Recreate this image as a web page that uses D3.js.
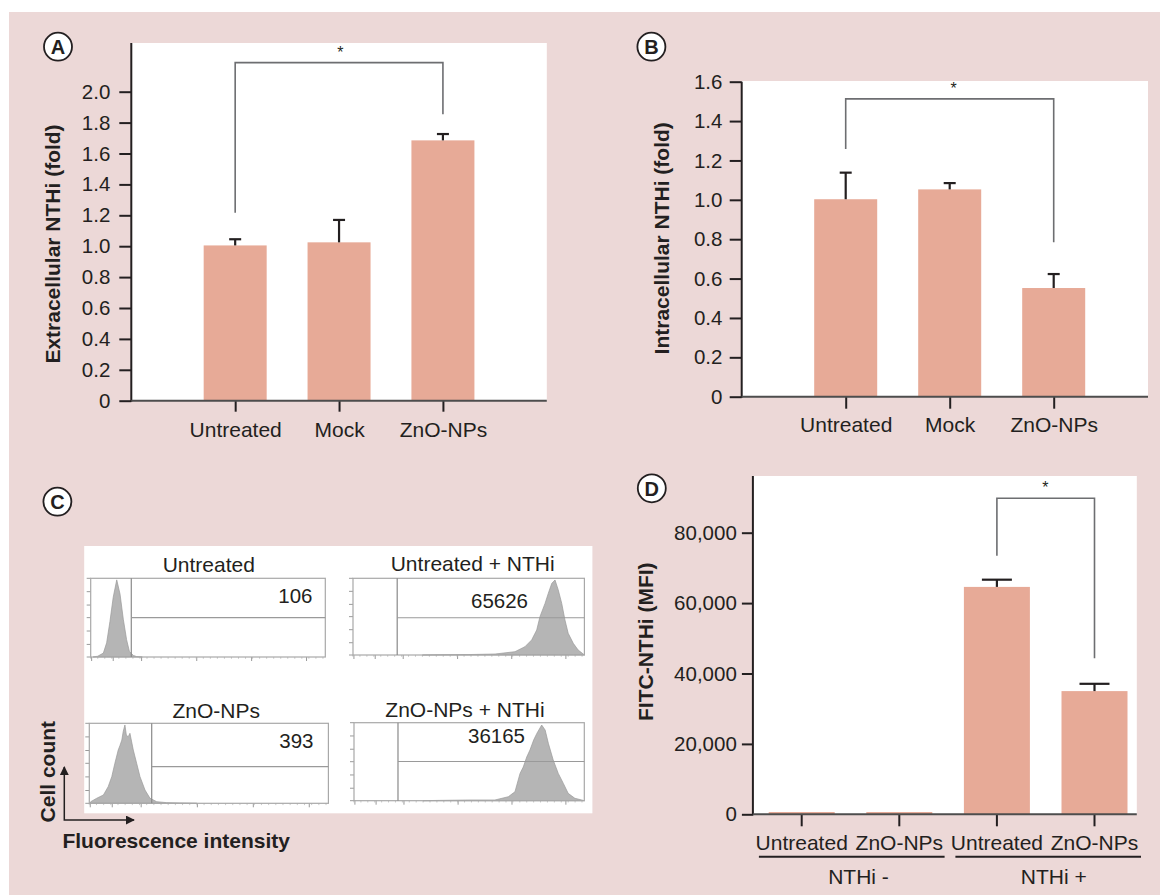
<!DOCTYPE html>
<html><head><meta charset="utf-8">
<script src="https://cdn.jsdelivr.net/npm/d3@7"></script>
<style>
html,body{margin:0;padding:0;background:#fff;}
svg{display:block;font-family:"Liberation Sans",Arial,Helvetica,sans-serif;}
</style></head><body>
<svg id="chart" width="1160" height="895"></svg>
<script>
// ---------- DATA ----------
const categoriesAB = ["Untreated", "Mock", "ZnO-NPs"];
const extracellularFold = [1.005, 1.025, 1.685];
const extracellularErr = [0.04, 0.145, 0.041];
const intracellularFold = [1.003, 1.053, 0.552];
const intracellularErr = [0.135, 0.032, 0.071];
const ticksA = [0, 0.2, 0.4, 0.6, 0.8, 1.0, 1.2, 1.4, 1.6, 1.8, 2.0];
const ticksB = [0, 0.2, 0.4, 0.6, 0.8, 1.0, 1.2, 1.4, 1.6];
// bracket: [level, left leg end, right leg end]
const bracketA = [2.188, 1.217, 1.854];
const bracketB = [1.513, 1.258, 0.784];

const categoriesD = ["Untreated", "ZnO-NPs", "Untreated", "ZnO-NPs"];
const groupsD = ["NTHi -", "NTHi +"];
const mfiValues = [650, 650, 64600, 35000];
const mfiErr = [0, 0, 2050, 2070];
const ticksD = [0, 20000, 40000, 60000, 80000];
const bracketD = [89770, 73460, 44320];

const histTitles = ["Untreated", "Untreated + NTHi", "ZnO-NPs", "ZnO-NPs + NTHi"];
const histMFI = ["106", "65626", "393", "36165"];
// [channel (0-100 of frame width), count (% of frame height)]
const histUntreated = [[1,0],[3,1],[5.4,5],[6.8,18],[8.2,45],[9.6,76],[11.1,98],[12.5,80],[13.9,48],[15.3,22],[16.5,7],[18.2,2],[19.6,0.5],[22,0]];
const histUntreatedNTHi = [[30,0],[37.6,0.3],[50.6,0.6],[61.4,1.3],[70,4.3],[74.3,10.8],[77.2,19.6],[79.4,32.6],[80.8,50],[83,67.3],[84.4,80.4],[85.9,93.4],[87.3,97.8],[88.7,84.8],[90.2,67.3],[91.6,45.6],[93,28.3],[95.2,15.2],[97.3,6.5],[99.5,1.3],[100,0]];
const histZnO = [[0.3,0],[0.6,2],[3.1,6.3],[5.9,10.4],[7.9,20.8],[9.4,33.3],[10.7,50],[12.1,66.6],[12.8,72],[13.6,79],[14.2,90],[14.9,97.9],[15.5,85],[16.3,83.3],[17,87.5],[18.4,66.6],[19.8,50],[21.2,33.3],[23.3,16.6],[25.4,6.3],[28.2,2],[32.4,0.8],[37.9,0.4],[45,0]];
const histZnONTHi = [[30,0],[37.3,0.4],[50.4,0.9],[61.2,0.9],[67,5.1],[69.9,11.5],[72.1,35],[73.5,43.2],[75,56],[76.4,64.9],[78,77.7],[79.4,86.3],[81.5,97],[83,90.6],[84.4,73.5],[86.5,52.2],[88.7,35],[90.9,22.2],[93,9.4],[95.9,3.1],[98.9,0.9],[100,0]];
const gateChannel = [17.3, 19.1, 26.1, 19.1];
const gateLevel = [50, 48.6, 45.8, 50.3];
const histTicksX = [0.4, 9.6, 21.7, 45.2, 68.6, 92];
const histTicksY = [0, 16, 33, 50, 66, 83, 100];

// ---------- STYLE ----------
const INK = "#231f20", BAR = "#e7aa97", PINK = "#ecd8d7", GREY = "#6d6e71";
const svg = d3.select("#chart");
svg.append("rect").attr("x", 9).attr("y", 12).attr("width", 1151).attr("height", 883).attr("fill", PINK);

function panelLabel(cx, cy, t) {
  svg.append("circle").attr("cx", cx).attr("cy", cy).attr("r", 14).attr("fill", "#fff").attr("stroke", INK).attr("stroke-width", 1.8);
  svg.append("text").attr("x", cx).attr("y", cy + 7.3).attr("text-anchor", "middle").attr("font-size", 20).attr("font-weight", "bold").attr("fill", INK).text(t);
}
function yTitle(x, cy, t) {
  svg.append("text").attr("transform", `translate(${x},${cy}) rotate(-90)`).attr("text-anchor", "middle")
    .attr("font-size", 21).attr("font-weight", "bold").attr("fill", INK).text(t);
}
function bars(centers, vals, errs, y, bw, capHalf) {
  const g = svg.append("g");
  g.selectAll("rect").data(vals).join("rect")
    .attr("x", (d, i) => centers[i] - bw / 2).attr("y", d => y(d))
    .attr("width", bw).attr("height", d => y(0) - y(d)).attr("fill", BAR);
  const eg = svg.append("g").attr("stroke", INK).attr("stroke-width", 2.2);
  vals.forEach((v, i) => {
    if (!errs[i]) return;
    eg.append("line").attr("x1", centers[i]).attr("x2", centers[i]).attr("y1", y(v)).attr("y2", y(v + errs[i]));
    eg.append("line").attr("x1", centers[i] - capHalf).attr("x2", centers[i] + capHalf).attr("y1", y(v + errs[i])).attr("y2", y(v + errs[i]));
  });
}
function bracket(xl, xr, y, br, starX, starSize) {
  svg.append("path").attr("d", `M${xl},${y(br[1])}V${y(br[0])}H${xr}V${y(br[2])}`)
    .attr("fill", "none").attr("stroke", GREY).attr("stroke-width", 1.6);
  svg.append("text").attr("x", starX).attr("y", y(br[0]) - 5).attr("text-anchor", "middle")
    .attr("font-size", starSize).attr("fill", INK).text("*");
}
function styleAxis(g, size) {
  g.select(".domain").remove();
  g.selectAll(".tick line").attr("stroke", INK).attr("stroke-width", 2);
  g.selectAll(".tick text").attr("fill", INK).attr("font-size", size).attr("font-family", "Liberation Sans, Arial, sans-serif");
}
const fmtFold = d => d === 0 ? "0" : d3.format(".1f")(d);

// ---------- PANEL A ----------
{
  const L = 131.3, R = 546.8, T = 43, B = 400.7;
  svg.append("rect").attr("x", L).attr("y", T).attr("width", R - L).attr("height", B - T).attr("fill", "#fff");
  const y = d3.scaleLinear().domain([0, 2.0]).range([B, 91.7]);
  const x = d3.scalePoint().domain(categoriesAB).range([L, R]).padding(1);
  const centers = categoriesAB.map(c => x(c));
  bars(centers, extracellularFold, extracellularErr, y, 63, 6);
  bracket(x(categoriesAB[0]), x(categoriesAB[2]), y, bracketA, 340.4, 16);
  const ga = svg.append("g").attr("transform", `translate(${L},0)`)
    .call(d3.axisLeft(y).tickValues(ticksA).tickSize(12).tickPadding(9).tickFormat(fmtFold));
  styleAxis(ga, 20.5);
  const gx = svg.append("g").attr("transform", `translate(0,${B})`)
    .call(d3.axisBottom(x).tickSize(11).tickPadding(10));
  styleAxis(gx, 21);
  svg.append("line").attr("x1", L).attr("x2", L).attr("y1", T).attr("y2", B + 1).attr("stroke", INK).attr("stroke-width", 2);
  svg.append("line").attr("x1", L).attr("x2", R).attr("y1", B).attr("y2", B).attr("stroke", "#4d4d4d").attr("stroke-width", 2);
  yTitle(60, 244, "Extracellular NTHi (fold)");
  panelLabel(58, 46.7, "A");
}

// ---------- PANEL B ----------
{
  const L = 741.7, R = 1148, T = 81, B = 396.7;
  svg.append("rect").attr("x", L).attr("y", T).attr("width", R - L).attr("height", B - T).attr("fill", "#fff");
  const y = d3.scaleLinear().domain([0, 1.6]).range([B, 81.7]);
  const x = d3.scalePoint().domain(categoriesAB).range([L, L + 416]).padding(1);
  const centers = categoriesAB.map(c => x(c));
  bars(centers, intracellularFold, intracellularErr, y, 63, 6);
  bracket(x(categoriesAB[0]), x(categoriesAB[2]), y, bracketB, 953.7, 16);
  const ga = svg.append("g").attr("transform", `translate(${L},0)`)
    .call(d3.axisLeft(y).tickValues(ticksB).tickSize(12).tickPadding(7.3).tickFormat(fmtFold));
  styleAxis(ga, 20.5);
  const gx = svg.append("g").attr("transform", `translate(0,${B})`)
    .call(d3.axisBottom(x).tickSize(12).tickPadding(8.7));
  styleAxis(gx, 21);
  svg.append("line").attr("x1", L).attr("x2", L).attr("y1", 81.7).attr("y2", B + 1).attr("stroke", INK).attr("stroke-width", 2);
  svg.append("line").attr("x1", L).attr("x2", R).attr("y1", B).attr("y2", B).attr("stroke", "#4d4d4d").attr("stroke-width", 2);
  yTitle(669, 238.3, "Intracellular NTHi (fold)");
  panelLabel(651.4, 46.7, "B");
}

// ---------- PANEL D ----------
{
  const L = 752.9, R = 1136.8, T = 476, B = 814.3;
  svg.append("rect").attr("x", L).attr("y", T).attr("width", R - L).attr("height", B - T).attr("fill", "#fff");
  const y = d3.scaleLinear().domain([0, 80000]).range([B, 532.7]);
  const idx = d3.range(categoriesD.length);
  const x = d3.scaleBand().domain(idx).range([L, L + 390.4]);
  const centers = idx.map(i => x(i) + x.bandwidth() / 2);
  bars(centers, mfiValues, mfiErr, y, 66, 15);
  bracket(centers[2], centers[3], y, bracketD, 1045.4, 16);
  const ga = svg.append("g").attr("transform", `translate(${L},0)`)
    .call(d3.axisLeft(y).tickValues(ticksD).tickSize(11).tickPadding(5.1).tickFormat(d3.format(",")));
  styleAxis(ga, 20.5);
  const gx = svg.append("g").attr("transform", `translate(0,${B})`)
    .call(d3.axisBottom(x).tickSize(12).tickPadding(8.8).tickFormat(i => categoriesD[i]));
  styleAxis(gx, 21);
  svg.append("line").attr("x1", L).attr("x2", L).attr("y1", T).attr("y2", B + 1).attr("stroke", INK).attr("stroke-width", 2);
  svg.append("line").attr("x1", L).attr("x2", R).attr("y1", B).attr("y2", B).attr("stroke", "#4d4d4d").attr("stroke-width", 2);
  // group underlines & labels
  const groupSpans = [[758.9, 944.6], [955.4, 1141]];
  groupsD.forEach((gname, gi) => {
    const [a, b] = groupSpans[gi];
    svg.append("line").attr("x1", a).attr("x2", b).attr("y1", 856.7).attr("y2", 856.7).attr("stroke", INK).attr("stroke-width", 2);
    const c = (centers[gi * 2] + centers[gi * 2 + 1]) / 2;
    svg.append("text").attr("x", c + 8).attr("y", 884).attr("text-anchor", "middle").attr("font-size", 21).attr("fill", INK).text(gname);
  });
  yTitle(652.7, 641.7, "FITC-NTHi (MFI)");
  panelLabel(651.8, 488.3, "D");
}

// ---------- PANEL C ----------
{
  svg.append("rect").attr("x", 84.2).attr("y", 546).attr("width", 592.4 - 84.2).attr("height", 813.3 - 546).attr("fill", "#fff");
  const frames = [
    {x0: 90.7, x1: 325.3, y0: 578.3, y1: 657},
    {x0: 353, x1: 584.4, y0: 578.3, y1: 655},
    {x0: 89.3, x1: 328.4, y0: 723.3, y1: 803.3},
    {x0: 354, x1: 584.3, y0: 722.7, y1: 800.7}
  ];
  const titlePos = [[208.8, 572], [472.7, 571], [216.2, 718.3], [465, 716.7]];
  const mfiPos = [[278.3, 603], [471, 608], [279.3, 748], [468, 743.3]];
  const hists = [histUntreated, histUntreatedNTHi, histZnO, histZnONTHi];
  frames.forEach((f, i) => {
    const hx = d3.scaleLinear().domain([0, 100]).range([f.x0, f.x1]);
    const hy = d3.scaleLinear().domain([0, 100]).range([f.y1, f.y0]);
    const g = svg.append("g");
    // ticks
    histTicksX.forEach(t => {
      g.append("line").attr("x1", hx(t)).attr("x2", hx(t)).attr("y1", f.y1).attr("y2", f.y1 + 4).attr("stroke", "#9a9a9a").attr("stroke-width", 1);
    });
    d3.range(0, 100, 3).forEach(t => {
      g.append("line").attr("x1", hx(t)).attr("x2", hx(t)).attr("y1", f.y1).attr("y2", f.y1 + 1.8).attr("stroke", "#bdbdbd").attr("stroke-width", 0.8);
    });
    histTicksY.forEach(t => {
      g.append("line").attr("x1", f.x0 - 4).attr("x2", f.x0).attr("y1", hy(t)).attr("y2", hy(t)).attr("stroke", "#9a9a9a").attr("stroke-width", 1);
    });
    // histogram
    const area = d3.area().x(d => hx(d[0])).y0(hy(0)).y1(d => hy(d[1]));
    g.append("path").datum(hists[i]).attr("d", area).attr("fill", "#b5b5b5").attr("stroke", "#999").attr("stroke-width", 0.7);
    // frame
    g.append("rect").attr("x", f.x0).attr("y", f.y0).attr("width", f.x1 - f.x0).attr("height", f.y1 - f.y0)
      .attr("fill", "none").attr("stroke", "#a8a8a8").attr("stroke-width", 1.2);
    // gates
    g.append("line").attr("x1", hx(gateChannel[i])).attr("x2", hx(gateChannel[i])).attr("y1", f.y0).attr("y2", f.y1).attr("stroke", "#8a8a8a").attr("stroke-width", 1.2);
    g.append("line").attr("x1", hx(gateChannel[i])).attr("x2", f.x1).attr("y1", hy(gateLevel[i])).attr("y2", hy(gateLevel[i])).attr("stroke", "#9a9a9a").attr("stroke-width", 1.1);
    // titles
    svg.append("text").attr("x", titlePos[i][0]).attr("y", titlePos[i][1]).attr("text-anchor", "middle").attr("font-size", 21).attr("fill", INK).text(histTitles[i]);
    svg.append("text").attr("x", mfiPos[i][0]).attr("y", mfiPos[i][1]).attr("font-size", 20.5).attr("fill", INK).text(histMFI[i]);
  });
  // arrows
  const defs = svg.append("defs");
  defs.append("marker").attr("id", "arr").attr("viewBox", "0 0 10 10").attr("refX", 9).attr("refY", 5)
    .attr("markerWidth", 6).attr("markerHeight", 6).attr("orient", "auto-start-reverse")
    .append("path").attr("d", "M0,0L10,5L0,10z").attr("fill", INK);
  svg.append("path").attr("d", "M64.3,767L64.3,820L134,820").attr("fill", "none").attr("stroke", INK).attr("stroke-width", 1.5)
    .attr("marker-start", "url(#arr)").attr("marker-end", "url(#arr)");
  yTitle(54.5, 771.7, "Cell count");
  svg.append("text").attr("x", 62.4).attr("y", 848).attr("font-size", 21).attr("font-weight", "bold").attr("fill", INK).text("Fluorescence intensity");
  panelLabel(57.4, 501.7, "C");
}
</script>
</body></html>
